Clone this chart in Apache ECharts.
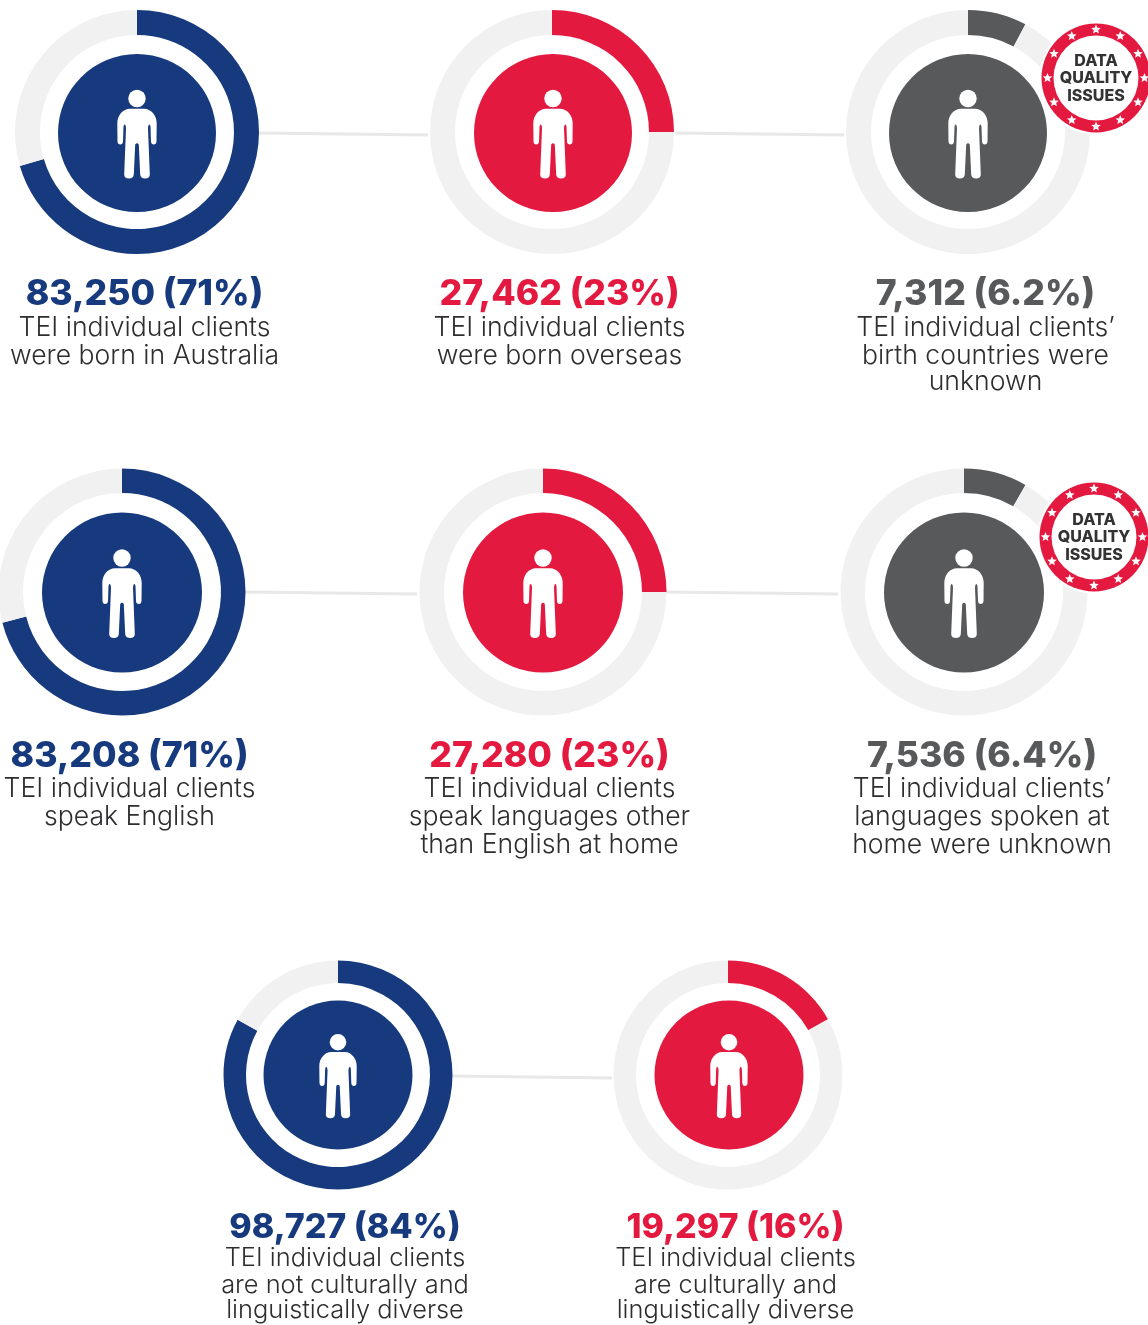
<!DOCTYPE html>
<html>
<head>
<meta charset="utf-8">
<style>
html,body{margin:0;padding:0;background:#fff}
#main{width:1148px;height:1325px}
</style>
<script src="https://cdn.jsdelivr.net/npm/echarts@6/dist/echarts.min.js"></script>
</head>
<body>
<div id="main"></div>
<script>
// numbers printed under each ring
var countLabels = ['83,250 (71%)','27,462 (23%)','7,312 (6.2%)','83,208 (71%)','27,280 (23%)','7,536 (6.4%)','98,727 (84%)','19,297 (16%)'];
// share of the ring that is filled (percent)
var arcShares = [70.5, 25, 7.8, 71, 25, 8.3, 83, 16.9];
var captions = [
    ['TEI individual clients','were born in Australia'],
    ['TEI individual clients','were born overseas'],
    ['TEI individual clients\u2019','birth countries were','unknown'],
    ['TEI individual clients','speak English'],
    ['TEI individual clients','speak languages other','than English at home'],
    ['TEI individual clients\u2019','languages spoken at','home were unknown'],
    ['TEI individual clients','are not culturally and','linguistically diverse'],
    ['TEI individual clients','are culturally and','linguistically diverse']
];
var badgeLines = ['DATA','QUALITY','ISSUES'];

// layout: ring centre, radii, text column
var colors = {blue:'#163a7d', red:'#e4193f', grey:'#58595b', track:'#f1f1f1', line:'#e8e8e8', text:'#2e2e30'};
var layout = [
    {x:137, y:132, r:122,   ri:97,  disc:79,   dx:0, dy:1,   color:colors.blue, tx:144.5, head:294.5,  rows:[327.5,355.5],        scale:1,    cap:26.6, hd:35.6},
    {x:552, y:132, r:122,   ri:97,  disc:79,   dx:1, dy:1,   color:colors.red,  tx:559.5, head:294.5,  rows:[327.5,355.5],        scale:1,    cap:26.6, hd:35.6},
    {x:968, y:132, r:122,   ri:97,  disc:79,   dx:0, dy:1,   color:colors.grey, tx:985.5, head:294.5,  rows:[327.5,355.5,381.5],  scale:1,    cap:26.6, hd:35.6},
    {x:122, y:592, r:123.5, ri:99,  disc:80,   dx:0, dy:0.5, color:colors.blue, tx:129.5, head:756.5,  rows:[788.5,816.5],        scale:1,    cap:26.6, hd:35.6},
    {x:543, y:592, r:123.5, ri:99,  disc:80,   dx:0, dy:0.5, color:colors.red,  tx:549.5, head:756.5,  rows:[788.5,816.5,844.5],  scale:1,    cap:26.6, hd:35.6},
    {x:964, y:592, r:123.5, ri:99,  disc:80,   dx:0, dy:0.5, color:colors.grey, tx:982,   head:756.5,  rows:[788.5,816.5,844.5],  scale:1,    cap:26.6, hd:35.6},
    {x:338, y:1075,r:114.5, ri:92,  disc:74.5, dx:0, dy:0,   color:colors.blue, tx:345,   head:1227.5, rows:[1258.5,1285.5,1310.5],scale:0.95,cap:25.4, hd:34},
    {x:728, y:1075,r:114.5, ri:92,  disc:74.5, dx:1, dy:0,   color:colors.red,  tx:735.5, head:1227.5, rows:[1258.5,1285.5,1310.5],scale:0.95,cap:25.4, hd:34}
];
var connectors = [
    [259,133,428,135],[675,133,844,135],
    [245,592,417,594],[665,592,838,594],
    [452,1076,612,1078]
];
var badges = [{x:1096,y:78,rows:[61,78,96]},{x:1094,y:537,rows:[520,537,555]}];

// person figure, drawn around the middle of the disc
var bodyPath = 'M-7,-24.7 L7,-24.7 C14,-24.7 19.7,-18 19.7,-10 L19.5,8 Q19.3,11 16.8,11 Q14.2,11 14,8 L13.5,-7 Q13,-9.5 12,-9 Q11,-8 11,-5 L12.8,41 Q12.8,45 8,45 Q3.6,45 3.2,41 L1.8,11 Q0,8.5 -1.8,11 L-3.2,41 Q-3.6,45 -8,45 Q-12.8,45 -12.8,41 L-11,-5 Q-11,-8 -12,-9 Q-13,-9.5 -13.5,-7 L-14,8 Q-14.2,11 -16.8,11 Q-19.3,11 -19.5,8 L-19.7,-10 C-19.7,-18 -14,-24.7 -7,-24.7 Z';

var myChart = echarts.init(document.getElementById('main'), null, {renderer:'canvas'});

function starPoints(cx, cy, size){
    var pts = [];
    for (var i = 0; i < 10; i++) {
        var a = -Math.PI / 2 + i * Math.PI / 5;
        var r = i % 2 ? size * 0.45 : size;
        pts.push([cx + r * Math.cos(a), cy + r * Math.sin(a)]);
    }
    return pts;
}

var series = layout.map(function (d, i) {
    return {
        type: 'pie',
        center: [d.x, d.y],
        radius: [d.ri, d.r],
        startAngle: 90,
        silent: true,
        z: 2,
        label: {show:false},
        labelLine: {show:false},
        emphasis: {disabled:true},
        data: [
            {value: arcShares[i], itemStyle:{color:d.color}},
            {value: 100 - arcShares[i], itemStyle:{color:colors.track}}
        ]
    };
});

// disc with the figure on it
series.push({
    type: 'custom',
    coordinateSystem: 'none',
    silent: true,
    z: 3,
    data: layout.map(function (d, i) { return i; }),
    renderItem: function (params) {
        var d = layout[params.dataIndex];
        var s = d.scale;
        var cx = d.x + d.dx, cy = d.y + d.dy;
        return {
            type: 'group',
            children: [
                {type:'circle', shape:{cx:cx,cy:cy,r:d.disc}, style:{fill:d.color}},
                {type:'circle', shape:{cx:cx,cy:cy-34.5*s,r:8.7*s}, style:{fill:'#fff'}},
                {type:'path', shape:{pathData:bodyPath, x:cx-19.7*s, y:cy-24.2*s, width:39.4*s, height:69.7*s, layout:'cover'}, style:{fill:'#fff'}}
            ]
        };
    }
});

var graphics = [];
connectors.forEach(function (c) {
    graphics.push({type:'line', silent:true, shape:{x1:c[0],y1:c[1],x2:c[2],y2:c[3]}, style:{stroke:colors.line,lineWidth:3}});
});
layout.forEach(function (d, i) {
    graphics.push({type:'text', silent:true, x:d.tx, y:d.head, style:{
        text:countLabels[i], fill:d.color, font:'800 '+d.hd+'px Inter', textAlign:'center', textVerticalAlign:'middle'
    }});
    captions[i].forEach(function (t, k) {
        graphics.push({type:'text', silent:true, x:d.tx, y:d.rows[k], style:{
            text:t, fill:colors.text, font:'300 '+d.cap+'px Inter', textAlign:'center', textVerticalAlign:'middle'
        }});
    });
});
badges.forEach(function (b) {
    graphics.push({type:'circle', silent:true, z:110, shape:{cx:b.x,cy:b.y,r:56.5}, style:{fill:'#fff'}});
    graphics.push({type:'circle', silent:true, z:111, shape:{cx:b.x,cy:b.y,r:54.5}, style:{fill:colors.red}});
    graphics.push({type:'circle', silent:true, z:112, shape:{cx:b.x,cy:b.y,r:42.5}, style:{fill:'#fff'}});
    for (var s = 0; s < 12; s++) {
        var a = s * Math.PI / 6;
        graphics.push({type:'polygon', silent:true, z:112, shape:{points:starPoints(b.x + 48.5*Math.cos(a), b.y + 48.5*Math.sin(a), 5)}, style:{fill:'#fff'}});
    }
    badgeLines.forEach(function (t, k) {
        graphics.push({type:'text', silent:true, z:113, x:b.x, y:b.rows[k], style:{
            text:t, fill:'#333', font:'800 16px Inter', textAlign:'center', textVerticalAlign:'middle'
        }});
    });
});

myChart.setOption({
    animation: false,
    backgroundColor: '#fff',
    series: series,
    graphic: {elements: graphics}
});
</script>
</body>
</html>
